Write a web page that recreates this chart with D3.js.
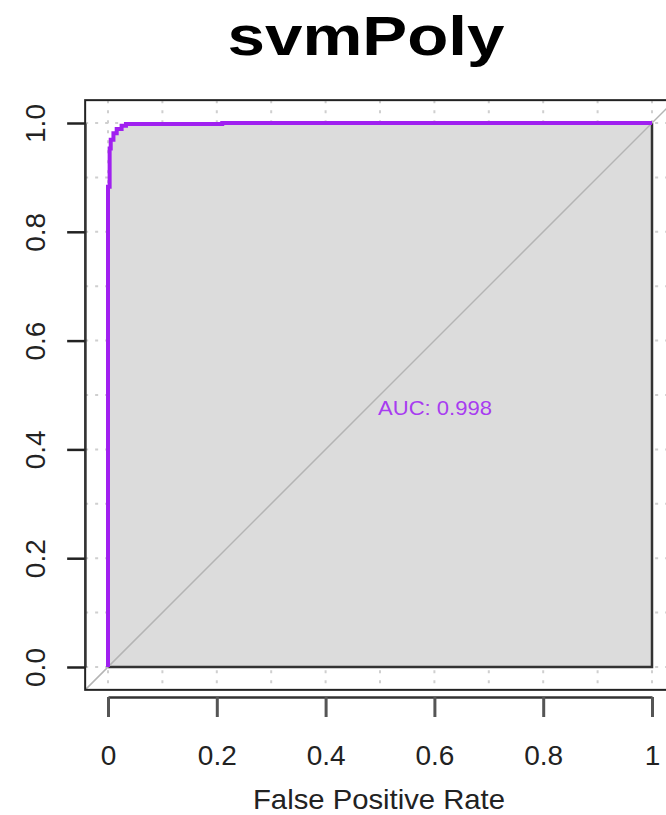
<!DOCTYPE html>
<html>
<head>
<meta charset="utf-8">
<script src="https://cdn.jsdelivr.net/npm/d3@7"></script>
<style>
  body { margin: 0; background: #fff; }
  text { font-family: "Liberation Sans", Arial, sans-serif; }
</style>
</head>
<body>
<script>
// ROC corner points (step before: vertical first, then horizontal)
var fpr = [0, 0.003, 0.005, 0.01, 0.016, 0.025, 0.033, 0.21, 1];
var tpr = [0, 0.883, 0.953, 0.969, 0.981, 0.989, 0.995, 0.998, 1];
var xTicks = [0, 0.2, 0.4, 0.6, 0.8, 1];
var yTicks = [0, 0.2, 0.4, 0.6, 0.8, 1];
var gridVals = [0, 0.1, 0.2, 0.3, 0.4, 0.5, 0.6, 0.7, 0.8, 0.9, 1];
var title = 'svmPoly';
var xLabel = 'False Positive Rate';
var aucText = 'AUC: 0.998';

var w = 666;
var h = 815;
var ext = 0.042;

var x = d3.scaleLinear().domain([0, 1]).range([108, 652]);
var y = d3.scaleLinear().domain([0, 1]).range([667, 123]);

var svg = d3.select('body')
  .append('svg')
  .attr('width', w)
  .attr('height', h);

var points = fpr.map(function(d, i){ return [d, tpr[i]]; });

// grid
svg.append('g').selectAll('line')
  .data(gridVals)
  .enter()
  .append('line')
    .attr('x1', function(d){ return x(d); })
    .attr('x2', function(d){ return x(d); })
    .attr('y1', y(1 + ext))
    .attr('y2', y(-ext))
    .attr('stroke', '#cfcfcf')
    .attr('stroke-width', 2)
    .attr('stroke-dasharray', '3 7');
svg.append('g').selectAll('line')
  .data(gridVals)
  .enter()
  .append('line')
    .attr('y1', function(d){ return y(d); })
    .attr('y2', function(d){ return y(d); })
    .attr('x1', x(-ext))
    .attr('x2', x(1 + ext))
    .attr('stroke', '#cfcfcf')
    .attr('stroke-width', 2)
    .attr('stroke-dasharray', '3 7');

// auc polygon
var area = d3.area()
  .x(function(d){ return x(d[0]); })
  .y0(y(0))
  .y1(function(d){ return y(d[1]); })
  .curve(d3.curveStepBefore);

svg.append('path')
  .datum(points)
  .attr('d', area)
  .attr('fill', '#dcdcdc')
  .attr('stroke', 'none');

svg.append('path')
  .attr('d', 'M' + x(0) + ',' + y(0) + 'H' + x(1) + 'V' + y(1))
  .attr('fill', 'none')
  .attr('stroke', '#333')
  .attr('stroke-width', 2.5);

// diagonal
svg.append('line')
  .attr('x1', x(-ext)).attr('y1', y(-ext))
  .attr('x2', x(1 + ext)).attr('y2', y(1 + ext))
  .attr('stroke', '#b4b4b4')
  .attr('stroke-width', 1.5);

// roc curve
var line = d3.line()
  .x(function(d){ return x(d[0]); })
  .y(function(d){ return y(d[1]); })
  .curve(d3.curveStepBefore);

svg.append('path')
  .datum(points)
  .attr('d', line)
  .attr('fill', 'none')
  .attr('stroke', '#a020f0')
  .attr('stroke-width', 4);

svg.append('text')
  .attr('x', x(0.5) - 2)
  .attr('y', y(0.5) + 20)
  .attr('font-size', 21)
  .attr('textLength', 114)
  .attr('lengthAdjust', 'spacingAndGlyphs')
  .attr('fill', '#a83cf0')
  .text(aucText);

// box
svg.append('rect')
  .attr('x', x(-ext))
  .attr('y', y(1 + ext))
  .attr('width', x(1 + ext) - x(-ext))
  .attr('height', y(-ext) - y(1 + ext))
  .attr('fill', 'none')
  .attr('stroke', '#222')
  .attr('stroke-width', 2);

// y axis
var yAxis = svg.append('g')
  .attr('transform', 'translate(' + x(-ext) + ',0)')
  .call(d3.axisLeft(y).tickValues(yTicks).tickSize(18).tickSizeOuter(0)
    .tickFormat(d3.format('.1f')));
yAxis.select('.domain').attr('stroke', '#333').attr('stroke-width', 2);
yAxis.selectAll('.tick line').attr('stroke', '#222').attr('stroke-width', 2.5);
yAxis.selectAll('.tick text')
  .attr('x', null).attr('dy', null)
  .attr('transform', 'translate(-40,0) rotate(-90)')
  .attr('text-anchor', 'middle')
  .attr('font-size', 28)
  .attr('fill', '#222');

// x axis
var xAxis = svg.append('g')
  .attr('transform', 'translate(0,697)')
  .call(d3.axisBottom(x).tickValues(xTicks).tickSize(20).tickSizeOuter(0)
    .tickFormat(function(d){ return (d === 0 || d === 1) ? d3.format('d')(d) : d3.format('.1f')(d); }));
xAxis.select('.domain').attr('stroke', '#333').attr('stroke-width', 2.5);
xAxis.selectAll('.tick line').attr('stroke', '#555').attr('stroke-width', 3);
xAxis.selectAll('.tick text')
  .attr('y', 68).attr('dy', null)
  .attr('font-size', 28)
  .attr('fill', '#222');

svg.append('text')
  .attr('x', 379)
  .attr('y', 809)
  .attr('text-anchor', 'middle')
  .attr('font-size', 28)
  .attr('textLength', 252)
  .attr('lengthAdjust', 'spacingAndGlyphs')
  .attr('fill', '#222')
  .text(xLabel);

svg.append('text')
  .attr('x', 366)
  .attr('y', 55)
  .attr('text-anchor', 'middle')
  .attr('font-size', 56)
  .attr('font-weight', 'bold')
  .attr('textLength', 277)
  .attr('lengthAdjust', 'spacingAndGlyphs')
  .attr('fill', '#000')
  .text(title);
</script>
</body>
</html>
